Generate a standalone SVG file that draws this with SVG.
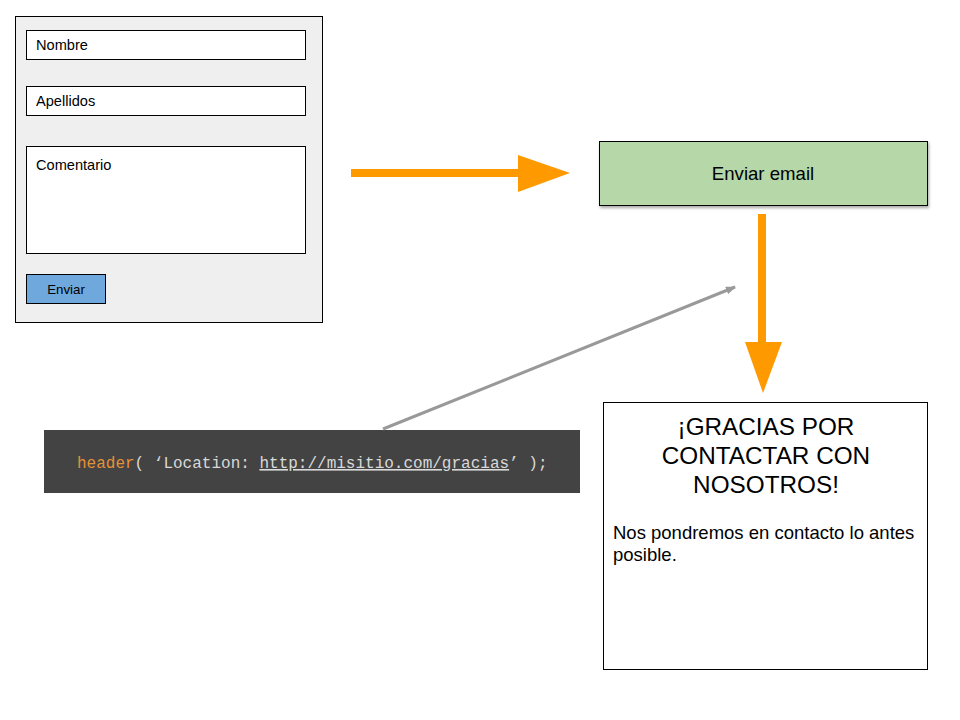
<svg xmlns="http://www.w3.org/2000/svg" width="960" height="720" viewBox="0 0 960 720">
<defs>
<style>
.t{font-family:"Liberation Sans",Arial,sans-serif;fill:#000}
.box{stroke:#000;stroke-width:1}
.code{font-family:"Liberation Mono","Courier New",monospace;font-size:16px;fill:#d9d9d9}
</style>
<filter id="sh" x="-10%" y="-20%" width="120%" height="150%">
<feDropShadow dx="1" dy="2" stdDeviation="1.5" flood-color="#000" flood-opacity="0.35"/>
</filter>
<marker id="ga" markerWidth="10" markerHeight="8" refX="9" refY="4" orient="auto" markerUnits="userSpaceOnUse" viewBox="0 0 10 8">
<path d="M0,0 L10,4 L0,8 Z" fill="#999"/>
</marker>
</defs>
<rect width="960" height="720" fill="#fff"/>

<g id="form">
<rect x="15.5" y="16.5" width="307" height="306" fill="#efefef" class="box"/>
<rect x="26.5" y="30.5" width="279" height="29" fill="#fff" class="box"/>
<text x="36" y="50" class="t" font-size="14.6">Nombre</text>
<rect x="26.5" y="86.5" width="279" height="29" fill="#fff" class="box"/>
<text x="36" y="106" class="t" font-size="14.6">Apellidos</text>
<rect x="26.5" y="146.5" width="279" height="107" fill="#fff" class="box"/>
<text x="36" y="170" class="t" font-size="14.6">Comentario</text>
<rect x="26.5" y="274.5" width="79" height="29" fill="#6fa8dc" class="box"/>
<text x="66" y="294" class="t" font-size="13.3" text-anchor="middle">Enviar</text>
</g>

<g id="send-email">
<rect x="599.5" y="141.5" width="328" height="64" fill="#b6d7a8" class="box" filter="url(#sh)"/>
<text x="763" y="180" class="t" font-size="18.6" text-anchor="middle">Enviar email</text>
</g>

<g id="code">
<rect x="44" y="430" width="536" height="63" fill="#434343"/>
<text x="77" y="468" class="code"><tspan fill="#e69138">header</tspan>( ‘Location: <tspan text-decoration="underline">http://misitio.com/gracias</tspan>’ );</text>
</g>

<g id="gracias">
<rect x="603.5" y="402.5" width="324" height="267" fill="#fff" class="box"/>
<text class="t" font-size="24.3" text-anchor="middle"><tspan x="766" y="435">¡GRACIAS POR</tspan><tspan x="766" y="464">CONTACTAR CON</tspan><tspan x="766" y="493">NOSOTROS!</tspan></text>
<text class="t" font-size="18.5"><tspan x="613" y="539">Nos pondremos en contacto lo antes</tspan><tspan x="613" y="561">posible.</tspan></text>
</g>

<g id="connectors">
<rect x="351" y="169" width="168" height="8" fill="#ff9900"/>
<path d="M518,155 L570,173 L518,192 Z" fill="#ff9900"/>
<rect x="758" y="214" width="8" height="129" fill="#ff9900"/>
<path d="M745,342 L782,342 L763,393 Z" fill="#ff9900"/>
<line x1="383" y1="429" x2="735" y2="287" stroke="#999" stroke-width="3" marker-end="url(#ga)"/>
</g>
</svg>
